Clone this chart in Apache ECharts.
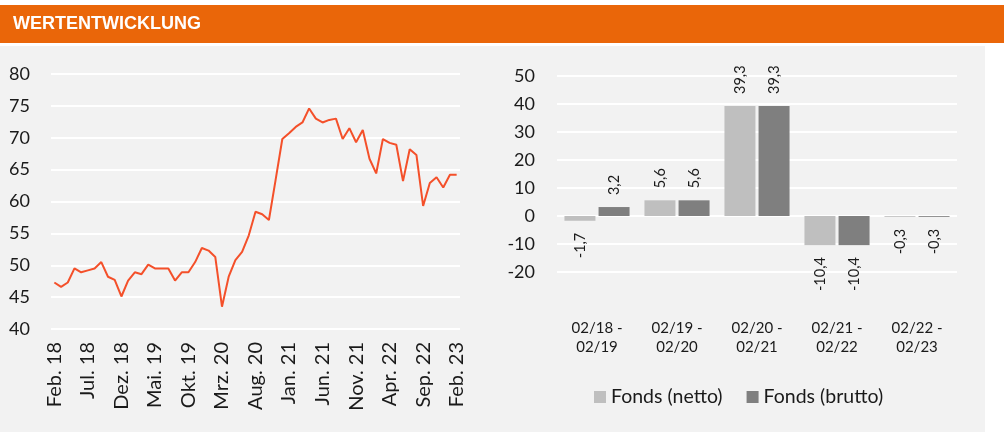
<!DOCTYPE html>
<html>
<head>
<meta charset="utf-8">
<script src="https://cdn.jsdelivr.net/npm/echarts@6/dist/echarts.min.js"></script>
<style>
  html, body { margin: 0; padding: 0; background: #fff; }
  #chart { width: 1004px; height: 432px; }
</style>
</head>
<body>
<div id="chart"></div>
<script>
'use strict';

// line chart: monthly values Feb. 18 .. Feb. 23
const monthNames = ['Jan.', 'Feb.', 'Mrz.', 'Apr.', 'Mai.', 'Jun.', 'Jul.', 'Aug.', 'Sep.', 'Okt.', 'Nov.', 'Dez.'];
const lineValues = [
  47.3, 46.6, 47.3, 49.5, 48.9, 49.2, 49.5, 50.5, 48.2, 47.7, 45.1, 47.6,
  48.9, 48.6, 50.1, 49.5, 49.5, 49.5, 47.6, 48.9, 48.9, 50.5, 52.7, 52.3,
  51.3, 43.5, 48.2, 50.8, 52.1, 54.7, 58.4, 58.0, 57.1, 63.4, 69.8, 70.7,
  71.7, 72.4, 74.6, 73.0, 72.4, 72.8, 73.0, 69.8, 71.5, 69.3, 71.2, 66.7,
  64.4, 69.8, 69.2, 68.9, 63.2, 68.2, 67.3, 59.3, 62.9, 63.8, 62.2, 64.2,
  64.2
];
const lineYTicks = { min: 40, max: 80, step: 5 };

// bar chart: yearly periods
const periods = ['02/18 -\n02/19', '02/19 -\n02/20', '02/20 -\n02/21', '02/21 -\n02/22', '02/22 -\n02/23'];
const nettoValues = [-1.7, 5.6, 39.3, -10.4, -0.3];
const bruttoValues = [3.2, 5.6, 39.3, -10.4, -0.3];
const barYTicks = { min: -20, max: 50, step: 10 };

const months = [];
for (let i = 0; i < lineValues.length; i++) {
  const m = (1 + i) % 12;
  const y = 18 + Math.floor((1 + i) / 12);
  months.push(monthNames[m] + ' ' + y);
}

const font = 'Lato, "Open Sans", sans-serif';
const textColor = '#1a1a1a';

function barItems(values) {
  return values.map(v => ({
    value: v,
    label: v < 0
      ? { position: 'bottom', align: 'right', verticalAlign: 'middle' }
      : { position: 'top', align: 'left', verticalAlign: 'middle' }
  }));
}

const barLabel = {
  show: true,
  rotate: 90,
  distance: 12,
  fontFamily: font,
  fontSize: 14.5,
  color: textColor,
  formatter: p => p.value.toFixed(1).replace('.', ',')
};

const chart = echarts.init(document.getElementById('chart'), null, { renderer: 'canvas' });

chart.setOption({
  animation: false,
  backgroundColor: '#ffffff',
  graphic: [
    { type: 'rect', silent: true, z: -10, shape: { x: 0, y: 5, width: 1004, height: 38 }, style: { fill: '#ea6609' } },
    { type: 'rect', silent: true, z: -10, shape: { x: 0, y: 46, width: 985, height: 386 }, style: { fill: '#f2f2f2' } }
  ],
  title: {
    text: 'WERTENTWICKLUNG',
    left: 13,
    top: 15,
    padding: 0,
    textStyle: { color: '#fff', fontSize: 18, fontWeight: 'bold', fontFamily: '"Liberation Sans", Arial, sans-serif' }
  },
  legend: {
    data: ['Fonds (netto)', 'Fonds (brutto)'],
    left: 589,
    top: 382,
    icon: 'rect',
    itemWidth: 12,
    itemHeight: 12,
    itemGap: 24,
    textStyle: { fontFamily: font, fontSize: 19.5, color: textColor }
  },
  grid: [
    { left: 51, top: 74, width: 409, height: 255 },
    { left: 557, top: 76, width: 400, height: 196 }
  ],
  xAxis: [
    {
      gridIndex: 0,
      type: 'category',
      data: months,
      boundaryGap: true,
      axisLine: { show: false },
      axisTick: { show: false },
      axisLabel: {
        interval: 4,
        rotate: 90,
        margin: 13,
        fontFamily: font,
        fontSize: 20,
        color: textColor
      }
    },
    {
      gridIndex: 1,
      type: 'category',
      data: periods,
      axisLine: { show: false },
      axisTick: { show: false },
      axisLabel: {
        margin: 47,
        lineHeight: 19,
        fontFamily: font,
        fontSize: 15,
        color: textColor
      }
    }
  ],
  yAxis: [
    {
      gridIndex: 0,
      type: 'value',
      min: lineYTicks.min,
      max: lineYTicks.max,
      interval: lineYTicks.step,
      axisLabel: { margin: 21, fontFamily: font, fontSize: 18, color: textColor },
      splitLine: { lineStyle: { color: '#ffffff', width: 2 } }
    },
    {
      gridIndex: 1,
      type: 'value',
      min: barYTicks.min,
      max: barYTicks.max,
      interval: barYTicks.step,
      axisLabel: { margin: 22, fontFamily: font, fontSize: 18, color: textColor },
      splitLine: { lineStyle: { color: '#ffffff', width: 2 } }
    }
  ],
  series: [
    {
      name: 'Wert',
      type: 'line',
      xAxisIndex: 0,
      yAxisIndex: 0,
      data: lineValues,
      showSymbol: false,
      symbol: 'none',
      lineStyle: { color: '#f4502a', width: 2 },
      itemStyle: { color: '#f4502a' }
    },
    {
      name: 'Fonds (netto)',
      type: 'bar',
      xAxisIndex: 1,
      yAxisIndex: 1,
      data: barItems(nettoValues),
      barWidth: 31,
      barGap: '10%',
      itemStyle: { color: '#bfbfbf' },
      label: barLabel
    },
    {
      name: 'Fonds (brutto)',
      type: 'bar',
      xAxisIndex: 1,
      yAxisIndex: 1,
      data: barItems(bruttoValues),
      barWidth: 31,
      barGap: '10%',
      itemStyle: { color: '#7f7f7f' },
      label: barLabel
    }
  ]
});
</script>
</body>
</html>
